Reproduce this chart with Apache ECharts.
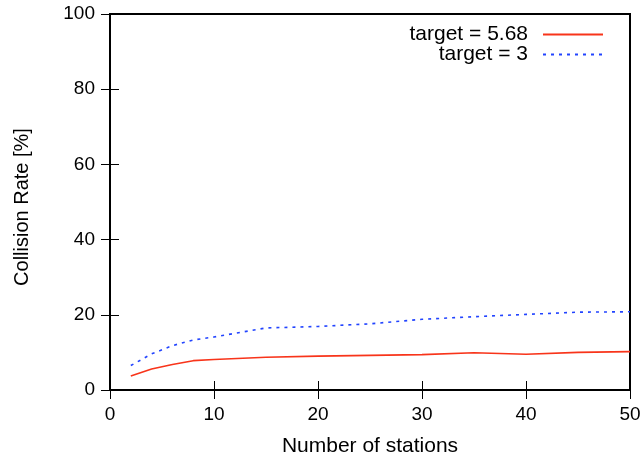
<!DOCTYPE html>
<html><head><meta charset="utf-8">
<script src="https://cdn.jsdelivr.net/npm/echarts@6/dist/echarts.min.js"></script>
<style>html,body{margin:0;padding:0;background:#fff}#c{width:644px;height:457px}</style>
</head><body><div id="c"></div>
<script>
const stations = [2, 4, 6, 8, 10, 15, 20, 25, 30, 35, 40, 45, 50];
const target568 = [3.7, 5.6, 6.8, 7.8, 8.1, 8.7, 9.0, 9.2, 9.4, 9.9, 9.5, 10.0, 10.2];
const target3 = [6.5, 9.6, 11.8, 13.3, 14.1, 16.5, 16.9, 17.6, 18.8, 19.5, 20.1, 20.7, 20.8];
const xTicks = [0, 10, 20, 30, 40, 50];
const yTicks = [0, 20, 40, 60, 80, 100];
const seriesNames = ['target = 5.68', 'target = 3'];

const font = 'Liberation Sans, Helvetica, Arial, sans-serif';
const chart = echarts.init(document.getElementById('c'), null, {renderer: 'canvas'});
const tickCommon = {show: true, inside: true, length: 9, lineStyle: {color: '#000', width: 1}};
chart.setOption({
  animation: false,
  grid: {left: 110, top: 14, right: 14, bottom: 67, outerBoundsMode: 'none', containLabel: false,
         show: true, borderColor: '#000', borderWidth: 2, backgroundColor: 'transparent'},
  legend: {
    orient: 'vertical', right: 35, top: 19, align: 'right', itemWidth: 60, itemHeight: 10, itemGap: -1,
    itemStyle: {opacity: 0},
    textStyle: {fontFamily: font, fontSize: 21, lineHeight: 18, color: '#000', padding: [0, 10, 0, 0]},
    data: seriesNames.map(n => ({name: n}))
  },
  xAxis: [{
    type: 'value', min: xTicks[0], max: xTicks[xTicks.length - 1], interval: 10,
    name: 'Number of stations', nameLocation: 'middle', nameGap: 46,
    nameTextStyle: {fontFamily: font, fontSize: 21, color: '#000'},
    axisLine: {show: false}, axisTick: tickCommon, splitLine: {show: false},
    axisLabel: {fontFamily: font, fontSize: 19, color: '#000', margin: 15}
  }, {
    type: 'value', position: 'top', min: xTicks[0], max: xTicks[xTicks.length - 1], interval: 10,
    axisLine: {show: false}, axisTick: tickCommon, splitLine: {show: false}, axisLabel: {show: false}
  }],
  yAxis: [{
    type: 'value', min: yTicks[0], max: yTicks[yTicks.length - 1], interval: 20,
    name: 'Collision Rate [%]', nameLocation: 'middle', nameGap: 78, nameRotate: 90,
    nameTextStyle: {fontFamily: font, fontSize: 20, color: '#000', padding: [0, 10, 0, 0]},
    axisLine: {show: false}, axisTick: tickCommon, splitLine: {show: false},
    axisLabel: {fontFamily: font, fontSize: 19, color: '#000', margin: 15}
  }, {
    type: 'value', position: 'right', min: yTicks[0], max: yTicks[yTicks.length - 1], interval: 20,
    axisLine: {show: false}, axisTick: tickCommon, splitLine: {show: false}, axisLabel: {show: false}
  }],
  series: [{
    name: seriesNames[0], type: 'line', symbol: 'none', xAxisIndex: 0, yAxisIndex: 0,
    data: stations.map((s, i) => [s, target568[i]]),
    lineStyle: {color: '#f8341a', width: 1.6}, itemStyle: {color: '#f8341a'}
  }, {
    name: seriesNames[1], type: 'line', symbol: 'none', xAxisIndex: 0, yAxisIndex: 0,
    data: stations.map((s, i) => [s, target3[i]]),
    lineStyle: {color: '#2244ff', width: 1.6, type: [3, 5]}, itemStyle: {color: '#2244ff'}
  }]
});
</script></body></html>
